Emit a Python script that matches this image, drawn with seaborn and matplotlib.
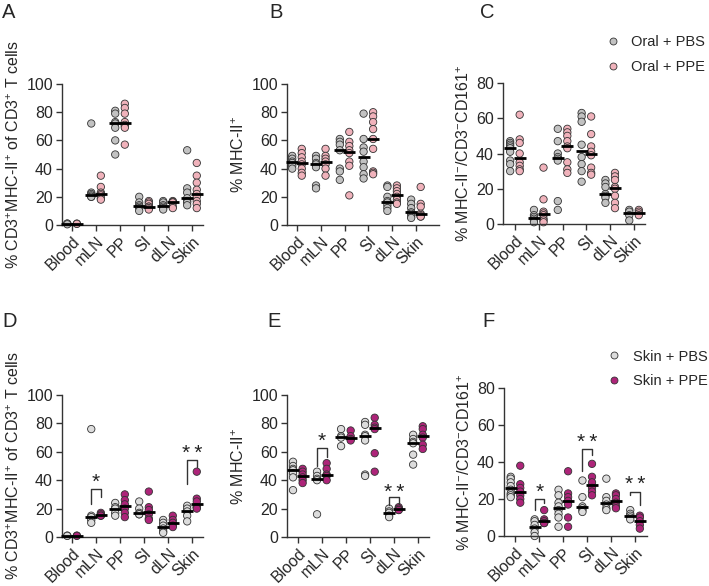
import warnings
import numpy as np
import pandas as pd
import matplotlib
matplotlib.use('Agg')
import matplotlib.pyplot as plt
import seaborn as sns

warnings.filterwarnings('ignore')

organs = ['Blood', 'mLN', 'PP', 'SI', 'dLN', 'Skin']

# A: % CD3+MHC-II+ of CD3+ T cells, oral sensitisation
a_pbs = [[1, 1, 0.5], [72, 23, 22, 21, 20, 20], [81, 79, 73, 72, 69, 60, 50],
         [20, 16, 14, 13, 12, 10], [17, 16, 14, 13, 12, 11], [53, 26, 23, 19, 17, 16, 14]]
a_ppe = [[1, 0.8], [35, 27, 23, 22, 21, 19, 18], [86, 83, 79, 73, 71, 70, 69, 57],
         [17, 16, 15, 13, 13, 12, 11], [17, 16.5, 16, 16, 13, 12], [44, 35, 30, 25, 22, 20, 17, 15, 12]]

# B: % MHC-II+, oral
b_pbs = [[49, 47, 45, 44, 42, 40], [49, 47, 44, 43, 41, 28, 26], [61, 59, 57, 53, 40, 38, 32],
         [79, 61, 55, 52, 45, 41, 36, 33], [28, 27, 20, 17, 16, 14, 12, 10], [18, 15, 12, 9, 8, 6, 5]]
b_ppe = [[54, 51, 48, 45, 43, 40, 37, 35], [54, 49, 47, 45, 43, 40, 35], [66, 59, 56, 53, 51, 45, 42, 21],
         [80, 77, 73, 68, 61, 54, 38, 37, 36], [28, 26, 24, 22, 20, 18, 16, 15], [27, 15, 13, 8, 7, 6, 6]]

# C: % MHC-II-/CD3-CD161+, oral
c_pbs = [[47, 46, 45, 44, 43, 41, 36, 34, 30], [8, 5, 4, 3, 2, 1], [54, 47, 40, 38, 37, 36, 13, 8],
         [63, 61, 58, 45, 38, 34, 30, 24], [25, 23, 21, 17, 16, 15, 12], [8, 7, 5, 2]]
c_ppe = [[62, 48, 46, 40, 35, 33, 31, 30], [32, 14, 7, 6, 5, 3, 2, 1], [54, 52, 50, 47, 44, 43, 35, 31, 29],
         [61, 51, 44, 41, 39, 32, 29, 28], [29, 27, 25, 21, 20, 16, 12, 9], [8, 7, 6, 5]]

# D: % CD3+MHC-II+ of CD3+ T cells, skin sensitisation
d_pbs = [[1, 0.8], [76, 15, 14, 12, 10], [24, 21, 20, 17, 15], [25, 20, 17, 16, 16],
         [12, 10, 8, 6, 4, 3], [22, 20, 18, 15, 11]]
d_ppe = [[1, 0.8], [17, 16, 15, 15], [30, 26, 23, 20, 17, 14], [32, 21, 19, 16, 13, 12],
         [15, 12, 10, 8, 7], [46, 27, 25, 21, 21, 20]]

# E: % MHC-II+, skin
e_pbs = [[53, 50, 48, 47, 45, 42, 33], [46, 43, 41, 40, 16], [76, 71, 70, 64],
         [81, 79, 72, 71, 68, 44, 43], [20, 18, 17, 15, 14], [72, 69, 67, 66, 58, 51]]
e_ppe = [[48, 46, 44, 42, 40, 38], [52, 48, 44, 43, 40], [75, 71, 69, 68],
         [84, 79, 77, 76, 59, 46], [21, 20, 19, 19], [78, 76, 72, 70, 65, 62]]

# F: % MHC-II-/CD3-CD161+, skin
f_pbs = [[32, 31, 29, 27, 25, 23, 22, 21], [9, 8, 6, 4, 2, 0], [25, 22, 18, 16, 14, 12, 10, 5],
         [30, 21, 16, 15, 14, 13], [31, 21, 19, 17, 15, 14], [14, 12, 11, 10, 9]]
f_ppe = [[38, 28, 26, 24, 22, 20, 18], [14, 9, 8, 7, 7], [35, 23, 21, 19, 17, 10, 5],
         [39, 32, 29, 26, 24, 22], [23, 22, 20, 18, 16, 15], [11, 10, 8, 6, 4]]

oral_groups = ['Oral + PBS', 'Oral + PPE']
skin_groups = ['Skin + PBS', 'Skin + PPE']
oral_colors = ['#c2c2c2', '#f0b2bb']
skin_colors = ['#dcdcdc', '#ad2479']

# significance brackets: (organ index, top, left leg end, right leg end, label, star height)
d_sig = [(1, 34, 23, 28, '*', 43), (5, 54, 37, 49, '*\u2009*', 63)]
e_sig = [(1, 63, 50, 56, '*', 72), (4, 28, 22.5, 23, '*\u2009*', 36)]
f_sig = [(1, 20, 14, 18, '*', 27), (3, 47, 35, 44, '*\u2009*', 54), (5, 24, 22, 17, '*\u2009*', 31)]

ylab_t = r'% CD3$^{+}$MHC-II$^{+}$ of CD3$^{+}$ T cells'
ylab_m = r'% MHC-II$^{+}$'
ylab_n = r'% MHC-II$^{-}$/CD3$^{-}$CD161$^{+}$'

sns.set_style('ticks')
plt.rcParams['font.family'] = ['Liberation Sans', 'DejaVu Sans']
plt.rcParams['mathtext.fontset'] = 'custom'
plt.rcParams['mathtext.rm'] = 'Liberation Sans'
plt.rcParams['mathtext.default'] = 'regular'

W, H = 709, 586
fig = plt.figure(figsize=(W / 100, H / 100), dpi=100)


def make_axes(left, right, top, bottom):
    return fig.add_axes([left / W, 1 - bottom / H, (right - left) / W, (bottom - top) / H])


def long_df(pbs, ppe, groups):
    rows = []
    for name, vals_list in zip(groups, [pbs, ppe]):
        for org, vals in zip(organs, vals_list):
            for v in vals:
                rows.append((org, name, v))
    return pd.DataFrame(rows, columns=['organ', 'group', 'value'])


def panel(ax, pbs, ppe, groups, colors, ymax, xlim, ylabel, legend=None, sig=None):
    df = long_df(pbs, ppe, groups)
    sns.stripplot(data=df, x='organ', y='value', hue='group', order=organs, hue_order=groups,
                  dodge=True, jitter=False, palette=colors, size=5.3, linewidth=0.6,
                  edgecolor='#333333', ax=ax, legend=legend is not None, zorder=2)
    sns.pointplot(data=df, x='organ', y='value', hue='group', order=organs, hue_order=groups,
                  estimator='median', errorbar=None, dodge=0.4, markers='_', linestyle='none',
                  markersize=8, markeredgewidth=2, palette=['black', 'black'], ax=ax,
                  legend=False, zorder=3)
    for art in ax.collections + ax.lines:
        art.set_clip_on(False)
    ax.set_ylim(0, ymax)
    ax.set_xlim(*xlim)
    ax.set_yticks(np.arange(0, ymax + 1, 20))
    ax.set_xlabel('')
    ax.set_ylabel(ylabel, fontsize=11.5, labelpad=3)
    ax.set_xticks(range(len(organs)))
    ax.set_xticklabels(organs, rotation=45, ha='right', rotation_mode='anchor')
    ax.tick_params(direction='out', length=4, width=1, color='#333333', labelsize=11.5, pad=2.5)
    for s in ['left', 'bottom']:
        ax.spines[s].set_color('#333333')
        ax.spines[s].set_linewidth(1)
    sns.despine(ax=ax)
    if sig:
        for i, top, l_end, r_end, lab, star_y in sig:
            ax.plot([i - 0.2, i - 0.2, i + 0.2, i + 0.2], [l_end, top, top, r_end],
                    color='#333333', lw=1, clip_on=False)
            ax.annotate(lab, (i, star_y), xytext=(0, -8.5), textcoords='offset points',
                        ha='center', va='baseline', fontsize=15, color='#222222')
    if legend is not None:
        h, l = ax.get_legend_handles_labels()
        for hd in h:
            hd.set_markersize(5)
        ax.legend(h, l, loc='upper left', bbox_to_anchor=legend, frameon=False,
                  borderaxespad=0, borderpad=0, handlelength=1, handletextpad=0.8,
                  labelspacing=0.75, fontsize=10.5)


ax_a = make_axes(62, 203, 84, 225)
panel(ax_a, a_pbs, a_ppe, oral_groups, oral_colors, 100, (-0.42, 5.46), ylab_t)
ax_b = make_axes(287, 439, 84, 225)
panel(ax_b, b_pbs, b_ppe, oral_groups, oral_colors, 100, (-0.42, 5.97), ylab_m)
ax_c = make_axes(503, 645, 83, 224)
panel(ax_c, c_pbs, c_ppe, oral_groups, oral_colors, 80, (-0.5, 5.46), ylab_n,
      legend=(0.72, 1.34))
ax_d = make_axes(62, 203, 395, 537)
panel(ax_d, d_pbs, d_ppe, skin_groups, skin_colors, 100, (-0.42, 5.46), ylab_t, sig=d_sig)
ax_e = make_axes(287, 429, 395, 537)
panel(ax_e, e_pbs, e_ppe, skin_groups, skin_colors, 100, (-0.45, 5.46), ylab_m, sig=e_sig)
ax_f = make_axes(504, 647, 388, 536)
panel(ax_f, f_pbs, f_ppe, skin_groups, skin_colors, 80, (-0.48, 5.5), ylab_n,
      legend=(0.716, 1.26), sig=f_sig)

for letter, x, y in [('A', 2, 18), ('B', 269, 18), ('C', 480, 18),
                     ('D', 2, 327), ('E', 267, 327), ('F', 482, 327)]:
    fig.text(x / W, 1 - y / H, letter, fontsize=14.5, va='baseline', ha='left')

fig.savefig('out.png', dpi=100)
